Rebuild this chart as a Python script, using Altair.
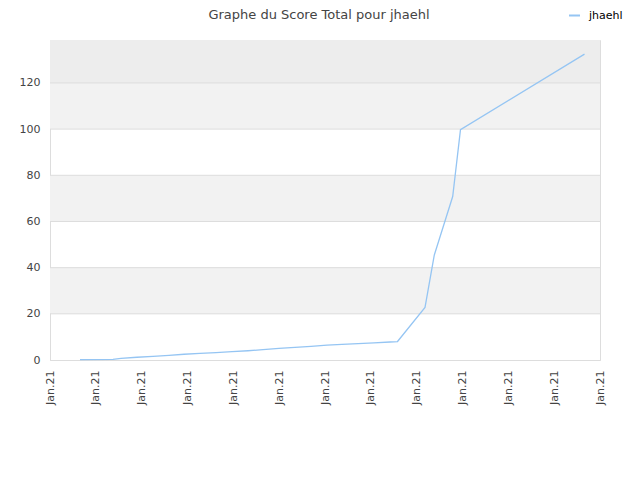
import altair as alt
import pandas as pd

# data (x in axis-tick units, 0..12)
x_pos = [0.655, 1.375, 1.549, 1.898, 2.247, 2.596, 2.924, 3.273, 3.622, 3.971,
         4.320, 4.647, 4.996, 5.345, 5.695, 6.044, 6.371, 6.720, 7.069, 7.418,
         7.582, 8.182, 8.385, 8.786, 8.956, 11.662]
scores = [0.2, 0.3, 0.7, 1.2, 1.6, 2.0, 2.5, 2.9, 3.2, 3.6,
          4.0, 4.5, 5.0, 5.5, 5.9, 6.4, 6.8, 7.1, 7.4, 7.8,
          8.0, 22.8, 45.5, 70.8, 99.8, 132.5]
series_name = "jhaehl"
x_ticks = list(range(13))
x_tick_label = "Jan.21"
y_ticks = [0, 20, 40, 60, 80, 100, 120]
y_max = 138.6
band_lo = [20, 60, 100, 120]
band_hi = [40, 80, 120, 138.6]
band_fill = ["#f2f2f2", "#f2f2f2", "#f2f2f2", "#ededed"]
grid_vals = [20, 40, 60, 80, 100, 120]

line_df = pd.DataFrame({"x": x_pos, "score": scores, "serie": [series_name] * len(x_pos)})
band_df = pd.DataFrame({"lo": band_lo, "hi": band_hi, "fill": band_fill})
grid_df = pd.DataFrame({"v": grid_vals})

FONT = "DejaVu Sans"

xscale = alt.Scale(domain=[0, 12], nice=False, zero=False)
yscale = alt.Scale(domain=[0, y_max], nice=False)

bands = alt.Chart(band_df).mark_rect().encode(
    x=alt.datum(0, scale=xscale),
    x2=alt.datum(12),
    y=alt.Y("lo:Q", scale=yscale),
    y2="hi:Q",
    fill=alt.Fill("fill:N", scale=None),
)

grid = alt.Chart(grid_df).mark_rule(color="#dddddd", strokeWidth=1).encode(
    x=alt.datum(0, scale=xscale),
    x2=alt.datum(12),
    y=alt.Y("v:Q", scale=yscale),
)

line = alt.Chart(line_df).mark_line(strokeWidth=1.3).encode(
    x=alt.X("x:Q", scale=xscale,
            axis=alt.Axis(values=x_ticks, labelExpr=f"'{x_tick_label}'", labelAngle=270,
                          title=None, grid=False, ticks=False, labelPadding=10,
                          domainColor="#dddddd", labelFontSize=11, labelColor="#444444",
                          labelFont=FONT)),
    y=alt.Y("score:Q", scale=yscale,
            axis=alt.Axis(values=y_ticks, title=None, grid=False, ticks=False, labelPadding=10,
                          domainColor="#dddddd", labelFontSize=11, labelColor="#444444",
                          labelFont=FONT)),
    color=alt.Color("serie:N", scale=alt.Scale(range=["#95c5f3"]),
                    legend=alt.Legend(title=None, orient="none", legendX=518, legendY=-31,
                                      labelFont=FONT, labelFontSize=11, labelColor="#000000",
                                      labelOffset=8,
                                      symbolType="stroke", symbolSize=120, symbolStrokeWidth=2)),
)

chart = alt.layer(bands, grid, line).properties(
    width=550,
    height=320,
    title=alt.TitleParams("Graphe du Score Total pour jhaehl", font=FONT, fontSize=13,
                          fontWeight="normal", color="#444444", anchor="middle",
                          offset=18, dx=-6, dy=31),
    autosize=alt.AutoSizeParams(type="none"),
    padding={"left": 42, "top": 32, "right": 32, "bottom": 112},
).configure_view(stroke="#dddddd", strokeWidth=1)

chart.save("out.html", embed_options={"renderer": "svg", "actions": False})
